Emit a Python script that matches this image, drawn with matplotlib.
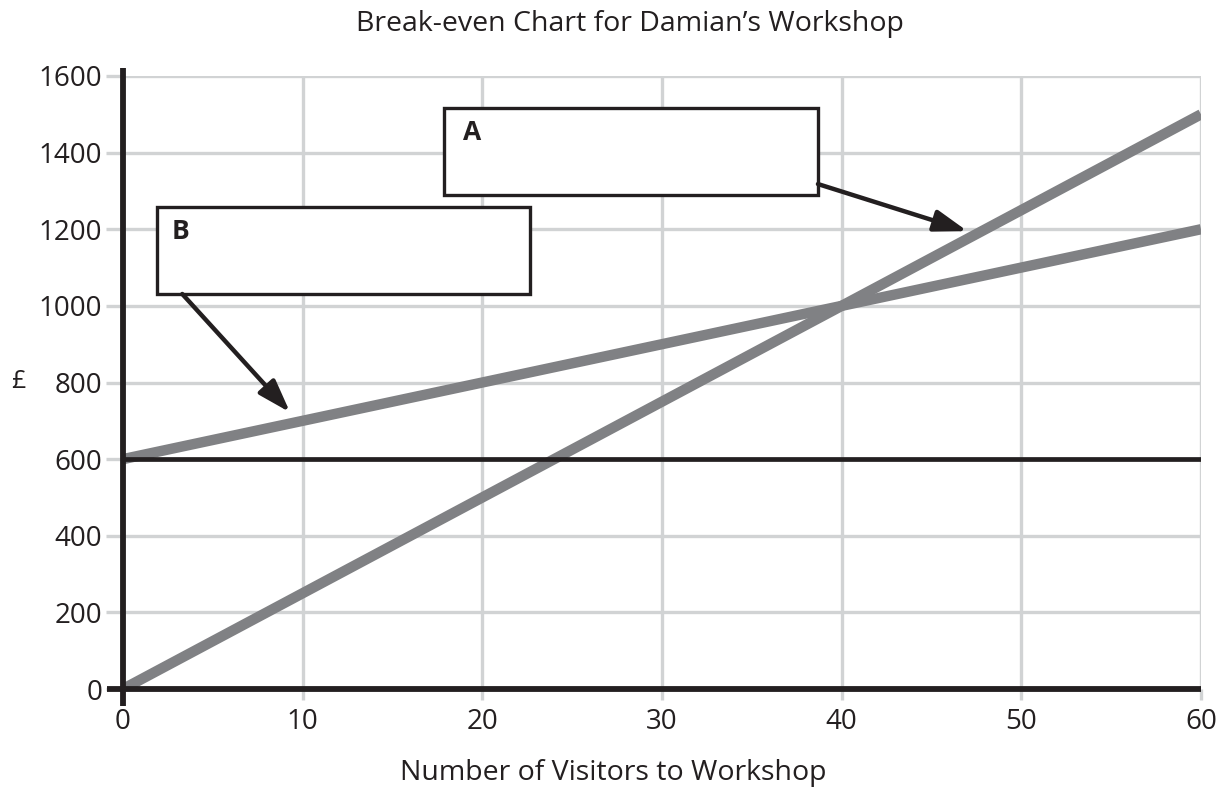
import matplotlib
matplotlib.use("Agg")
import matplotlib.pyplot as plt
from matplotlib.patches import Rectangle

plt.rcParams['font.family'] = ['Open Sans', 'DejaVu Sans']

# Data
visitors = [0, 60]
revenue = [0, 1500]
total_cost = [600, 1200]
fixed_cost = [600, 600]
x_ticks = [0, 10, 20, 30, 40, 50, 60]
y_ticks = [0, 200, 400, 600, 800, 1000, 1200, 1400, 1600]
title = "Break-even Chart for Damian\u2019s Workshop"
xlabel = "Number of Visitors to Workshop"
ylabel = "\u00a3"

fig = plt.figure(figsize=(12.28, 7.92), dpi=100)
ax = fig.add_axes([123/1228, 1-689/792, (1201-123)/1228, (689-76)/792])
ax.set_xlim(0, 60)
ax.set_ylim(0, 1600)
for s in ax.spines.values():
    s.set_visible(False)

grid_c = '#d1d3d4'
ink = '#231f20'
ax.set_xticks(x_ticks)
ax.set_yticks(y_ticks)
ax.grid(True, color=grid_c, lw=2.4, zorder=0)
ax.tick_params(axis='x', length=8, width=2.4, color=grid_c, labelsize=20, pad=6, labelcolor=ink)
ax.tick_params(axis='y', length=12, width=2.4, color=grid_c, labelsize=20, pad=3, labelcolor=ink)

line_c = '#808184'
ax.plot(visitors, revenue, color=line_c, lw=7.5, solid_capstyle='butt', zorder=3)
ax.plot(visitors, total_cost, color=line_c, lw=7.5, solid_capstyle='butt', zorder=3)
ax.plot(visitors, fixed_cost, color=ink, lw=3.4, zorder=4)

# axis lines
ax.plot([0, 0], [-45, 1620], color=ink, lw=4.2, clip_on=False, zorder=5, solid_capstyle='butt')
ax.plot([-0.9, 60], [0, 0], color=ink, lw=4.2, clip_on=False, zorder=5, solid_capstyle='butt')

# Boxes
ax.add_patch(Rectangle((17.86, 1289), 38.68-17.86, 1517-1289, fill=True, fc='white', ec=ink, lw=2.4, zorder=6))
ax.add_patch(Rectangle((1.89, 1031), 22.65-1.89, 1258-1031, fill=True, fc='white', ec=ink, lw=2.4, zorder=6))
ax.text(18.9, 1453, "A", fontsize=19, fontweight='bold', ha='left', va='center', color=ink, zorder=7)
ax.text(2.7, 1193, "B", fontsize=19, fontweight='bold', ha='left', va='center', color=ink, zorder=7)

arrow_style = '-|>,head_length=1.0,head_width=0.33'
ax.annotate("", xy=(47.0, 1195), xytext=(38.68, 1318),
            arrowprops=dict(arrowstyle=arrow_style, mutation_scale=20, color=ink, lw=3.2, shrinkA=0, shrinkB=0), zorder=7)
ax.annotate("", xy=(9.3, 722), xytext=(3.3, 1031),
            arrowprops=dict(arrowstyle=arrow_style, mutation_scale=20, color=ink, lw=3.2, shrinkA=0, shrinkB=0), zorder=7)

fig.text(630/1228, 1-24/792, title, fontsize=20.5, ha='center', va='center', color=ink)
fig.text(613/1228, 1-773/792, xlabel, fontsize=20.5, ha='center', va='center', color=ink)
fig.text(18/1228, 1-381/792, ylabel, fontsize=18, ha='center', va='center', color=ink)

fig.savefig("out.png", dpi=100)
